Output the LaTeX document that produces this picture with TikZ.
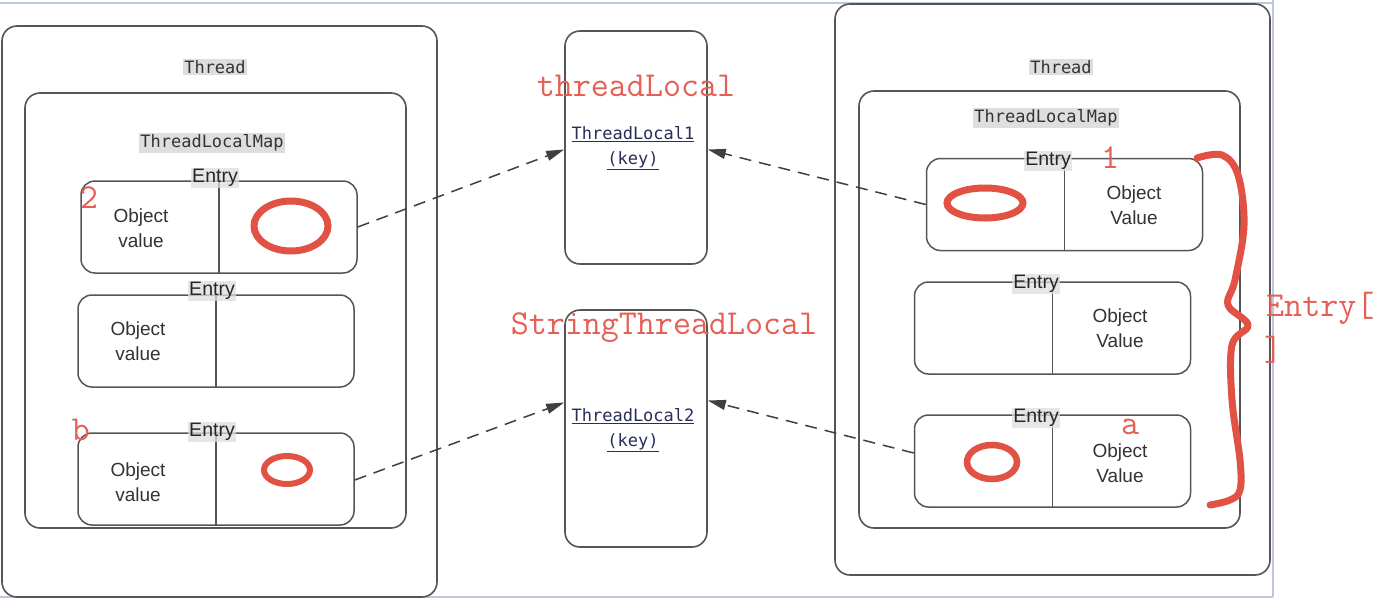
\documentclass[tikz,border=0pt]{standalone}
\usepackage{fontspec}
\setmainfont{Liberation Sans}
\newfontfamily\codefont{DejaVu Sans Mono}
\usetikzlibrary{arrows.meta}
\definecolor{boxline}{RGB}{85,85,85}
\definecolor{hand}{RGB}{226,82,68}
\definecolor{handtxt}{RGB}{230,95,85}
\definecolor{labelbg}{RGB}{222,222,222}
\definecolor{keytxt}{RGB}{40,45,90}
\definecolor{selline}{RGB}{190,200,220}
\tikzset{
  outerbox/.style={draw=boxline, line width=1.6pt, rounded corners=15pt, fill=white},
  entrybox/.style={draw=boxline, line width=1.5pt, rounded corners=14pt, minimum width=276pt, minimum height=92pt, inner sep=0pt},
  codelabel/.style={fill=labelbg, inner sep=1.5pt, font=\codefont\fontsize{17}{20}\selectfont, text=black!80},
  entrylabel/.style={fill=labelbg, fill opacity=0.75, text opacity=1, inner sep=1pt, font=\fontsize{19.5}{22}\selectfont, text=black!85},
  objtxt/.style={align=center, font=\fontsize{19}{25}\selectfont, text=black!80},
  keytext/.style={align=center, font=\codefont\fontsize{17}{25}\selectfont, text=keytxt},
  handmark/.style={draw=hand, line width=7pt},
  handlabel/.style={text=handtxt, font=\ttfamily\fontsize{35}{35}\selectfont, inner sep=0pt},
  link/.style={draw=black!75, line width=1.5pt, dash pattern=on 12pt off 8pt, -{Triangle[length=18pt,width=10pt]}}
}
\begin{document}
\begin{tikzpicture}[x=1pt,y=-1pt]
\useasboundingbox (0,0) rectangle (1384,600);
\fill[white] (0,0) rectangle (1384,600);
% screen selection lines
\draw[selline, line width=1.2pt] (0,3) -- (1273,3);
\draw[selline, line width=1.2pt] (1273,0) -- (1273,597);
\draw[selline, line width=1.2pt] (0,597) -- (1273,597);

% ---------- left thread ----------
\node[outerbox, minimum width=435pt, minimum height=571pt] (lthread) at (219.5,311.5) {};
\node[codelabel] (lthreadlbl) at (215,67) {Thread};
\node[outerbox, minimum width=381pt, minimum height=435pt] (lmap) at (215.5,310.5) {};
\node[codelabel] (lmaplbl) at (212,143) {ThreadLocalMap};

\node[entrybox] (le1) at (219,227) {};
\draw[boxline, line width=1.5pt] (le1.north) -- (le1.south);
\node[entrylabel] (le1lbl) at (215,178) {Entry};
\node[objtxt] (le1obj) at (141,228) {Object\\value};
\draw[handmark] (291,226) ellipse [x radius=37pt, y radius=25pt];

\node[entrybox] (le2) at (216,341) {};
\draw[boxline, line width=1.5pt] (le2.north) -- (le2.south);
\node[entrylabel] (le2lbl) at (212,291) {Entry};
\node[objtxt] (le2obj) at (138,341) {Object\\value};

\node[entrybox] (le3) at (216,479) {};
\draw[boxline, line width=1.5pt] (le3.north) -- (le3.south);
\node[entrylabel] (le3lbl) at (212,432) {Entry};
\node[objtxt] (le3obj) at (138,482) {Object\\value};
\draw[hand, line width=6pt] (287,470) ellipse [x radius=23pt, y radius=14pt];

\node[handlabel] (l2) at (89,198) {2};
\node[handlabel] (lb) at (81,430) {b};

% ---------- middle keys ----------
\node[outerbox, minimum width=142pt, minimum height=233pt] (k1) at (636,147.5) {};
\node[keytext] (k1txt) at (633,148) {\underline{ThreadLocal1}\\\underline{(key)}};
\node[outerbox, minimum width=142pt, minimum height=237pt] (k2) at (636,428.5) {};
\node[keytext] (k2txt) at (633,430) {\underline{ThreadLocal2}\\\underline{(key)}};

\node[handlabel] (tl) at (636,86) {threadLocal};
\node[handlabel] (stl) at (664,328) {StringThreadLocal};

% ---------- right thread ----------
\node[outerbox, minimum width=435pt, minimum height=571pt] (rthread) at (1052.5,289.5) {};
\node[codelabel] (rthreadlbl) at (1061,67) {Thread};
\node[outerbox, minimum width=381pt, minimum height=437pt] (rmap) at (1049.5,309.5) {};
\node[codelabel] (rmaplbl) at (1046,118) {ThreadLocalMap};

\node[entrybox] (re1) at (1064.5,204.5) {};
\draw[boxline, line width=1.5pt] (re1.north) -- (re1.south);
\node[entrylabel] (re1lbl) at (1048,161) {Entry};
\node[objtxt] (re1obj) at (1134,205) {Object\\Value};
\draw[handmark] (985,203) ellipse [x radius=38pt, y radius=15pt];

\node[entrybox] (re2) at (1052.5,328) {};
\draw[boxline, line width=1.5pt] (re2.north) -- (re2.south);
\node[entrylabel] (re2lbl) at (1036,284) {Entry};
\node[objtxt] (re2obj) at (1120,328) {Object\\Value};

\node[entrybox] (re3) at (1052.5,461) {};
\draw[boxline, line width=1.5pt] (re3.north) -- (re3.south);
\node[entrylabel] (re3lbl) at (1036,418) {Entry};
\node[objtxt] (re3obj) at (1120,463) {Object\\Value};
\draw[hand, line width=6.5pt] (992,462) ellipse [x radius=25pt, y radius=17pt];

\node[handlabel] (r1) at (1110,158) {1};
\node[handlabel] (ra) at (1130,427) {a};
\node[handlabel, anchor=west] (entryarr) at (1266,308) {Entry[};
\node[handlabel, anchor=west] (entryclose) at (1264,350) {]};

% brace
\draw[hand, line width=7pt, line cap=round, line join=round]
  plot[smooth, tension=0.6] coordinates {(1197,158) (1222,155) (1238,175) (1244,225) (1235,280) (1228,305) (1248,325) (1232,345) (1232,400) (1240,460) (1240,490) (1230,500) (1210,505)};

% ---------- connectors ----------
\draw[link] (le1.east) -- ([yshift=-2pt]k1.west);
\draw[link] ([yshift=-1pt]le3.east) -- ([yshift=26pt]k2.west);
\draw[link] (re1.west) -- ([yshift=-2pt]k1.east);
\draw[link] ([yshift=8pt]re3.west) -- ([yshift=28pt]k2.east);
\end{tikzpicture}
\end{document}
